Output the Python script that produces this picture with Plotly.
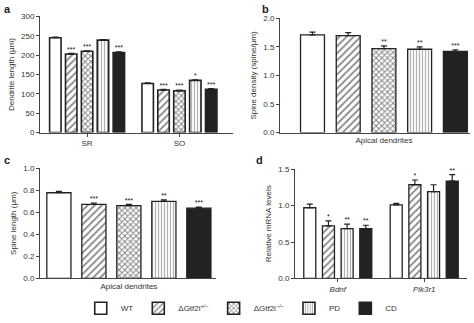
import plotly.graph_objects as go

# ---------------- data ----------------
conditions = ["WT", "ΔGtf2i<sup>+/−</sup>", "ΔGtf2i<sup>−/−</sup>", "PD", "CD"]

# panel a: dendrite length (µm), groups SR / SO
a_groups = ["SR", "SO"]
a_wt = [245, 127]
a_het = [203, 110]
a_hom = [210, 108]
a_pd = [239, 135]
a_cd = [207, 112]
a_err = [1.5, 1.5]
a_stars_wt = ["", ""]
a_stars_het = ["***", "***"]
a_stars_hom = ["***", "***"]
a_stars_pd = ["", "*"]
a_stars_cd = ["***", "***"]

# panel b: spine density (spine/µm), apical dendrites
b_vals = [1.71, 1.70, 1.47, 1.46, 1.42]
b_err = [0.05, 0.05, 0.05, 0.04, 0.03]
b_stars = ["", "", "**", "**", "***"]

# panel c: spine length (µm), apical dendrites
c_vals = [0.777, 0.672, 0.661, 0.698, 0.637]
c_err = [0.012, 0.012, 0.010, 0.015, 0.010]
c_stars = ["", "***", "***", "**", "***"]

# panel d: relative mRNA levels, genes Bdnf / Pik3r1 (no ΔGtf2i-/-)
d_genes = ["<i>Bdnf</i>", "<i>Pik3r1</i>"]
d_wt = [0.97, 1.01]
d_het = [0.72, 1.285]
d_pd = [0.685, 1.19]
d_cd = [0.685, 1.335]
d_err_wt = [0.05, 0.02]
d_err_het = [0.07, 0.065]
d_err_pd = [0.06, 0.095]
d_err_cd = [0.045, 0.09]
d_stars_wt = ["", ""]
d_stars_het = ["*", "*"]
d_stars_pd = ["**", ""]
d_stars_cd = ["**", "**"]

# ---------------- styles ----------------
DARK = "#222222"
FONT = "Liberation Sans"
styles = [
    dict(color="white", pattern=dict(shape="")),
    dict(color="white", pattern=dict(shape="/", fgcolor="#111", bgcolor="white", size=5, solidity=0.35)),
    dict(color="white", pattern=dict(shape="x", fgcolor="#111", bgcolor="white", size=4, solidity=0.45)),
    dict(color="white", pattern=dict(shape="|", fgcolor="#666", bgcolor="white", size=3, solidity=0.4)),
    dict(color=DARK, pattern=dict(shape="")),
]

fig = go.Figure()


def add_panel(xa, ya, centers, series, errs, stars, slot, width, style_idx, legend, lw):
    n = len(series)
    for k, (vals, err, st, si) in enumerate(zip(series, errs, stars, style_idx)):
        xs = [c + (k - (n - 1) / 2) * slot for c in centers]
        fig.add_trace(go.Bar(
            x=xs, y=vals, width=width, xaxis=xa, yaxis=ya,
            name=conditions[si], legendgroup=conditions[si], showlegend=legend,
            marker=dict(color=styles[si]["color"], pattern=styles[si]["pattern"],
                        line=dict(color=DARK, width=lw)),
            error_y=dict(type="data", array=err, arrayminus=[0] * len(err), symmetric=False,
                         color=DARK, thickness=1.2, width=3),
        ))
        fig.add_trace(go.Scatter(
            x=xs, y=[v + e for v, e in zip(vals, err)], xaxis=xa, yaxis=ya,
            mode="text", text=st, textposition="top center",
            textfont=dict(size=7, color="#111111", family=FONT),
            showlegend=False, hoverinfo="skip", cliponaxis=False,
        ))


# panel a
add_panel("x", "y", [0, 1],
          [a_wt, a_het, a_hom, a_pd, a_cd], [a_err] * 5,
          [a_stars_wt, a_stars_het, a_stars_hom, a_stars_pd, a_stars_cd],
          0.172, 0.124, [0, 1, 2, 3, 4], True, 1.6)
# panel b
add_panel("x2", "y2", [0], [[v] for v in b_vals], [[e] for e in b_err],
          [[s] for s in b_stars], 1.0, 0.67, [0, 1, 2, 3, 4], False, 1.3)
# panel c
add_panel("x3", "y3", [0], [[v] for v in c_vals], [[e] for e in c_err],
          [[s] for s in c_stars], 1.0, 0.69, [0, 1, 2, 3, 4], False, 1.3)
# panel d
add_panel("x4", "y4", [0, 1], [d_wt, d_het, d_pd, d_cd],
          [d_err_wt, d_err_het, d_err_pd, d_err_cd],
          [d_stars_wt, d_stars_het, d_stars_pd, d_stars_cd],
          0.216, 0.139, [0, 1, 3, 4], False, 1.3)

tickfont = dict(size=8, color="#333", family=FONT)
titlefont = dict(size=8, color="#333", family=FONT)
yax = dict(showline=True, linecolor="#444", linewidth=1, ticks="outside", ticklen=3,
           tickcolor="#444", showgrid=False, zeroline=False, tickfont=tickfont)
xax = dict(showline=True, linecolor="#444", linewidth=1, showgrid=False, zeroline=False,
           tickfont=tickfont)

W, H = 474, 323


def dom(p0, p1, total, flip=False):
    if flip:
        return [1 - p1 / total, 1 - p0 / total]
    return [p0 / total, p1 / total]


fig.update_layout(
    width=W, height=H, margin=dict(l=0, r=0, t=0, b=0),
    paper_bgcolor="white", plot_bgcolor="white",
    barmode="overlay", font=dict(family=FONT, size=8, color="#333"),
    xaxis=dict(xax, anchor="y", domain=dom(40, 233, W), range=[-0.51, 1.58],
               tickvals=[0, 1], ticktext=a_groups, ticks="outside", ticklen=3, tickcolor="#444"),
    yaxis=dict(yax, anchor="x", domain=dom(13, 134, H, True), range=[0, 300],
               tickvals=[0, 50, 100, 150, 200, 250, 300],
               title=dict(text="Dendrite length (μm)", font=titlefont, standoff=5)),
    xaxis2=dict(xax, anchor="y2", domain=dom(280, 470, W), range=[-2.91, 2.41],
                tickvals=[0], ticktext=["Apical dendrites"], ticks=""),
    yaxis2=dict(yax, anchor="x2", domain=dom(15, 134, H, True), range=[0, 2.0],
                tickvals=[0, 0.5, 1.0, 1.5, 2.0], tickformat=".1f",
                title=dict(text="Spine density (spine/μm)", font=titlefont, standoff=5)),
    xaxis3=dict(xax, anchor="y3", domain=dom(40, 216, W), range=[-2.54, 2.49],
                tickvals=[0], ticktext=["Apical dendrites"], ticks=""),
    yaxis3=dict(yax, anchor="x3", domain=dom(171, 286, H, True), range=[0, 1.0],
                tickvals=[0, 0.2, 0.4, 0.6, 0.8, 1.0], tickformat=".1f",
                title=dict(text="Spine length (μm)", font=titlefont, standoff=5)),
    xaxis4=dict(xax, anchor="y4", domain=dom(295, 467, W), range=[-0.495, 1.495],
                tickvals=[0, 1], ticktext=d_genes, ticks="outside", ticklen=3, tickcolor="#444"),
    yaxis4=dict(yax, anchor="x4", domain=dom(172, 286, H, True), range=[0, 1.5],
                tickvals=[0, 0.5, 1.0, 1.5], tickformat=".1f",
                title=dict(text="Relative mRNA levels", font=titlefont, standoff=5)),
    legend=dict(orientation="h", x=0.51, xanchor="center", y=1 - 317 / H, yanchor="middle",
                font=dict(size=8, color="#333", family=FONT), bgcolor="rgba(0,0,0,0)",
                itemwidth=30, tracegroupgap=0),
)

for txt, px, py in [("a", 2, 5), ("b", 260, 5), ("c", 2, 163), ("d", 254, 163)]:
    fig.add_annotation(text="<b>%s</b>" % txt, xref="paper", yref="paper",
                       x=px / W, y=1 - py / H, xanchor="left", yanchor="middle",
                       showarrow=False, font=dict(size=11, color="#222", family=FONT))

fig.write_html("out.html")
